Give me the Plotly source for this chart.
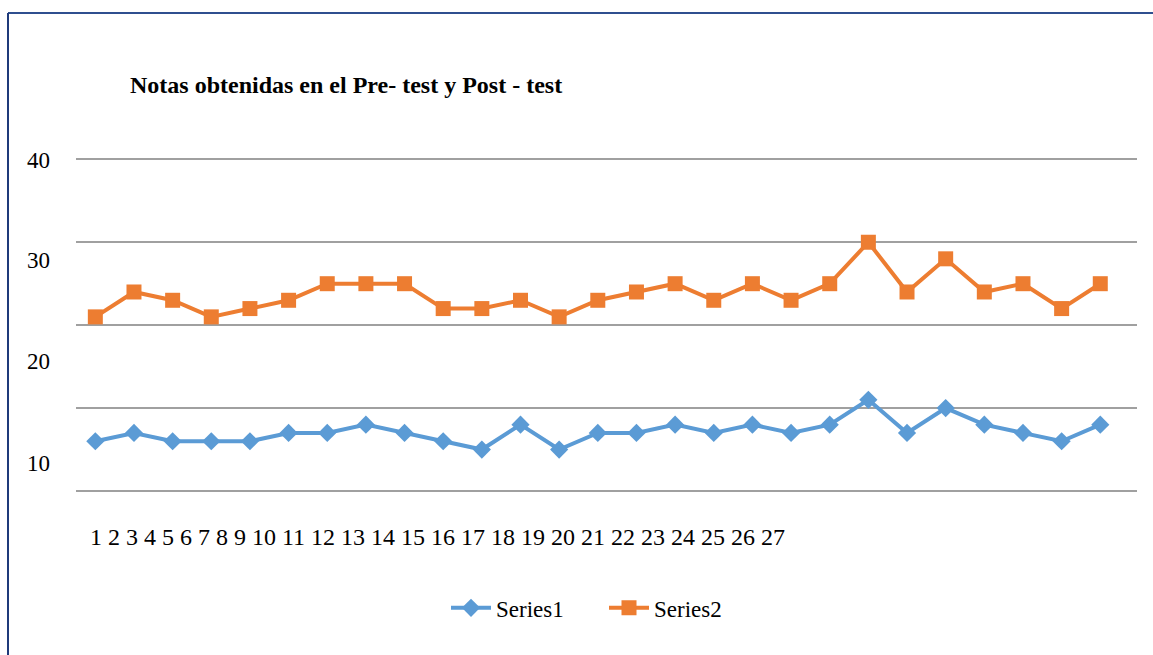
import plotly.graph_objects as go

# ---- data ----
categories = list(range(1, 28))
series1 = [6, 7, 6, 6, 6, 7, 7, 8, 7, 6, 5, 8, 5, 7, 7, 8, 7, 8, 7, 8, 11, 7, 10, 8, 7, 6, 8]
series2 = [21, 24, 23, 21, 22, 23, 25, 25, 25, 22, 22, 23, 21, 23, 24, 25, 23, 25, 23, 25, 30, 24, 28, 24, 25, 22, 25]
ytick_text = ["40", "30", "20", "10"]
ytick_pos = [39.8, 27.8, 15.6, 3.3]
title_text = "Notas obtenidas en el Pre- test y Post - test"

W, H = 1153, 655
YMAX = 40.4
L, R, B = 76, 1137, 491
T = B - 8.3 * YMAX
pw, ph = R - L, B - T

def px_x(p):
    return (p - L) / pw

def px_y(p):
    return (B - p) / ph

FONT = "Liberation Serif"

fig = go.Figure()
fig.add_trace(go.Scatter(
    x=categories, y=series1, name="Series1", mode="lines+markers",
    line=dict(color="#5B9BD5", width=4),
    marker=dict(symbol="diamond", size=14, color="#5B9BD5"),
))
fig.add_trace(go.Scatter(
    x=categories, y=series2, name="Series2", mode="lines+markers",
    line=dict(color="#ED7D31", width=4),
    marker=dict(symbol="square", size=15, color="#ED7D31"),
))

annotations = []
for t, p in zip(ytick_text, ytick_pos):
    annotations.append(dict(
        text=t, x=0, xref="paper", xshift=-24, xanchor="right",
        y=p, yref="y", yanchor="middle", showarrow=False,
        font=dict(family=FONT, size=23, color="#000000"),
    ))
annotations.append(dict(
    text=" ".join(str(c) for c in categories),
    x=px_x(88), xref="paper", xanchor="left",
    y=px_y(537), yref="paper", yanchor="middle", showarrow=False,
    font=dict(family=FONT, size=24, color="#000000"),
))

shapes = [
    dict(type="line", xref="paper", yref="paper",
         x0=px_x(8), x1=px_x(1160), y0=px_y(12.5), y1=px_y(12.5),
         line=dict(color="#2F4F8F", width=2)),
    dict(type="line", xref="paper", yref="paper",
         x0=px_x(8), x1=px_x(8), y0=px_y(12.5), y1=px_y(660),
         line=dict(color="#1F3A7A", width=2)),
]

fig.update_layout(
    width=W, height=H,
    margin=dict(l=L, r=W - R, t=T, b=H - B, pad=0),
    paper_bgcolor="white", plot_bgcolor="white",
    font=dict(family=FONT, size=23, color="#000000"),
    title=dict(
        text="<b>" + title_text + "</b>",
        x=130 / W, xanchor="left", xref="container",
        y=1 - 85 / H, yanchor="middle", yref="container",
        font=dict(family=FONT, size=24, color="#000000"),
    ),
    xaxis=dict(
        range=[0.5, 27.95], showgrid=False, zeroline=False, showline=False,
        showticklabels=False, ticks="",
    ),
    yaxis=dict(
        range=[0, YMAX], dtick=10, tick0=0, showgrid=True, gridcolor="#A0A0A0",
        gridwidth=1.5, zeroline=True, zerolinecolor="#A0A0A0", zerolinewidth=1.5,
        showline=False, showticklabels=False, ticks="",
    ),
    legend=dict(
        orientation="h", x=px_x(604), xanchor="center",
        y=px_y(608), yanchor="middle",
        font=dict(family=FONT, size=23, color="#000000"),
        itemwidth=40, entrywidth=103, bgcolor="rgba(0,0,0,0)",
    ),
    annotations=annotations,
    shapes=shapes,
    showlegend=True,
)

fig.write_html(
    "out.html",
    config={"displayModeBar": False},
    post_script="document.body.style.margin='0';document.body.style.overflow='hidden';",
)
